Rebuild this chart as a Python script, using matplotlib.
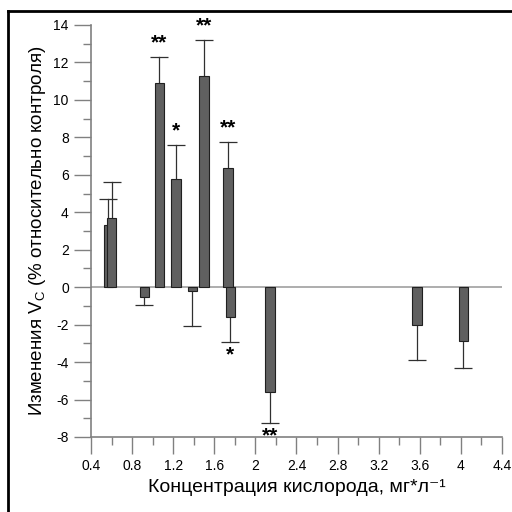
import matplotlib
matplotlib.use("Agg")
import matplotlib.pyplot as plt
from matplotlib.lines import Line2D
from matplotlib.ticker import MultipleLocator

plt.rcParams["font.family"] = ["Liberation Sans", "DejaVu Sans"]
plt.rcParams["mathtext.fontset"] = "custom"
plt.rcParams["mathtext.rm"] = "Liberation Sans"
plt.rcParams["mathtext.it"] = "Liberation Sans"
plt.rcParams["axes.unicode_minus"] = False

# oxygen concentration, mean change, error (one-sided), significance mark
conc = [0.57, 0.60, 0.92, 1.065, 1.227, 1.386, 1.50, 1.733, 1.756, 2.142, 3.573, 4.025]
change = [3.3, 3.7, -0.55, 10.9, 5.75, -0.2, 11.3, 6.35, -1.6, -5.6, -2.0, -2.85]
err = [1.4, 1.9, 0.4, 1.4, 1.85, 1.85, 1.9, 1.4, 1.35, 1.65, 1.9, 1.45]
marks = ["", "", "", "**", "*", "", "**", "**", "*", "**", "", ""]

fig = plt.figure(figsize=(5.12, 5.12), dpi=100)
ax = fig.add_axes([0.1777, 0.1465, 0.8028, 0.8047])

gray = "#808080"
ax.axhline(0, color="#a0a0a0", lw=1.2, zorder=1)

for x, v, e, m in zip(conc, change, err, marks):
    ax.bar(x, v, width=0.092, color="#606060", edgecolor="#202020",
           linewidth=0.8, zorder=3)
    tip = v + e if v > 0 else v - e
    ax.plot([x, x], [v, tip], color="#303030", lw=0.9, zorder=2)
    ax.plot([x], [tip], marker="_", ms=13, mew=0.9, color="#303030", zorder=2)
    if m:
        dy = 10 if v > 0 else -9
        ax.annotate(m, (x, tip), xytext=(0, dy), textcoords="offset points",
                    ha="center", va="center", fontsize=15, fontweight="bold")

ax.set_xlim(0.4, 4.4)
ax.set_ylim(-8, 14)
ax.xaxis.set_minor_locator(MultipleLocator(0.2))
ax.yaxis.set_major_locator(MultipleLocator(2))
ax.yaxis.set_minor_locator(MultipleLocator(1))
ax.set_xticks([0.4, 0.8, 1.2, 1.6, 2.0, 2.4, 2.8, 3.2, 3.6, 4.0, 4.4])
ax.set_xticklabels(["0.4", "0.8", "1.2", "1.6", "2", "2.4", "2.8", "3.2",
                    "3.6", "4", "4.4"])

for s in ["top", "right"]:
    ax.spines[s].set_visible(False)
for s in ["left", "bottom"]:
    ax.spines[s].set_color(gray)
    ax.spines[s].set_linewidth(1.2)

ax.tick_params(which="major", length=12, width=1, color=gray, labelsize=10,
               pad=4)
ax.tick_params(which="minor", length=5.5, width=1, color=gray)

ax.set_xlabel("Концентрация кислорода, мг*л⁻¹", fontsize=14, labelpad=4)
ax.set_ylabel("Изменения V$_{\\rm C}$ (% относительно контроля)", fontsize=13.5,
              labelpad=4)

# frame lines at the top and left of the image
fig.add_artist(Line2D([8 / 512, 1], [1 - 11 / 512, 1 - 11 / 512],
                      transform=fig.transFigure, color="black", lw=2))
fig.add_artist(Line2D([8 / 512, 8 / 512], [0, 1 - 11 / 512],
                      transform=fig.transFigure, color="black", lw=2))

fig.savefig("out.png", dpi=100)
